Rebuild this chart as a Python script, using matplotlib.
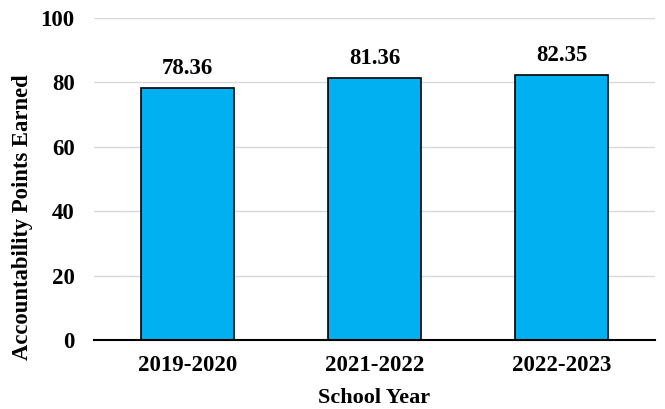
import matplotlib
matplotlib.use("Agg")
import matplotlib.pyplot as plt

categories = ["2019-2020", "2021-2022", "2022-2023"]
values = [78.36, 81.36, 82.35]
yticks = [0, 20, 40, 60, 80, 100]

plt.rcParams['font.family'] = ['Liberation Serif', 'DejaVu Serif']
plt.rcParams['font.weight'] = 'bold'

W, H = 665, 409
fig = plt.figure(figsize=(W / 100, H / 100), dpi=100)
ax = fig.add_axes([94 / W, 69 / H, 561 / W, 322 / H])

x = range(len(categories))
ax.bar(x, values, width=0.5, color="#00B0F0", edgecolor="black", linewidth=1.2, zorder=3)
for xi, v in zip(x, values):
    ax.text(xi, v + 4.4, f"{v:.2f}", ha="center", va="baseline", fontsize=16.5, fontweight="bold")

ax.set_xlim(-0.5, 2.5)
ax.set_ylim(0, 100)
ax.set_yticks(yticks)
ax.set_xticks(list(x))
ax.set_xticklabels(categories, fontsize=16.5, fontweight="bold")
ax.tick_params(axis="y", labelsize=16.5, length=0, pad=14)
ax.tick_params(axis="x", length=0, pad=11)
for lab in ax.get_yticklabels():
    lab.set_fontweight("bold")
ax.grid(axis="y", color="#D9D9D9", linewidth=1, zorder=0)
for s in ["top", "right", "left"]:
    ax.spines[s].set_visible(False)
ax.spines["bottom"].set_linewidth(1.5)
ax.spines["bottom"].set_zorder(4)

ax.set_xlabel("School Year", fontsize=16, fontweight="bold")
ax.set_ylabel("Accountability Points Earned", fontsize=16.3, fontweight="bold")
ax.xaxis.label.set_va("center")
ax.yaxis.label.set_va("center")
ax.xaxis.set_label_coords(0.5, (340 - 398) / 322)
ax.yaxis.set_label_coords((23 - 94) / 561, (340 - 217.5) / 322)

fig.savefig("out.png", dpi=100)
